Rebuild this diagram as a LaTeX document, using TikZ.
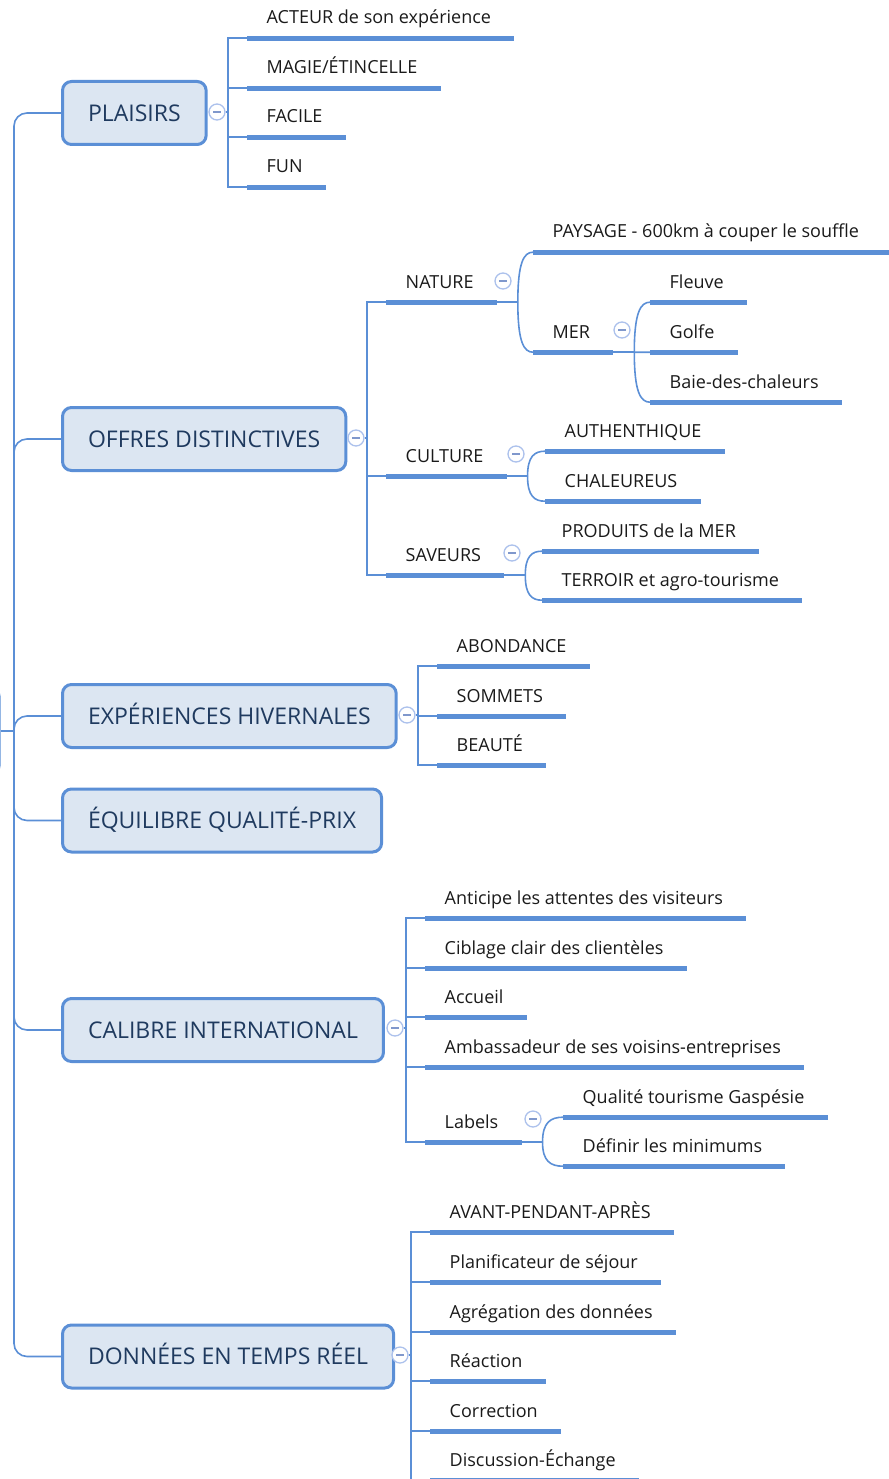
\documentclass[tikz,border=0pt]{standalone}
\usepackage{fontspec}
\setmainfont{Open Sans}
\usetikzlibrary{calc}
\definecolor{lineblue}{RGB}{91,143,214}
\definecolor{boxfill}{RGB}{220,230,242}
\definecolor{boxtext}{RGB}{31,58,95}
\definecolor{circblue}{RGB}{172,193,236}
\definecolor{minusblue}{RGB}{128,152,204}
\definecolor{subtext}{RGB}{26,26,26}
\newcommand\mmbranch[2]{\draw[conn] (#1) .. controls ($(#1)!0.8!(#1|-#2)$) and ($(#2)!0.6!(#1|-#2)$) .. (#2);}
\begin{document}
\begin{tikzpicture}[x=1pt,y=-1pt,
 conn/.style={draw=lineblue, line width=1.6pt},
 ul/.style={draw=lineblue, line width=5pt},
 topic/.style={draw=lineblue, line width=3pt, fill=boxfill, rounded corners=9pt, anchor=west, inner xsep=25.5pt, inner ysep=0pt, minimum height=63pt, text height=16.5pt, text depth=0pt, font=\fontsize{23}{28}\selectfont, text=boxtext},
 sub/.style={anchor=base west, inner xsep=0pt, inner ysep=0pt, text height=13pt, text depth=14pt, font=\fontsize{18}{21}\selectfont, text=subtext, execute at begin node=\hspace*{19.5pt}, execute at end node=\hspace*{23pt}},
 collapse/.style={circle, draw=circblue, line width=1.3pt, fill=white, minimum size=16pt, inner sep=0pt, path picture={\draw[minusblue, line width=1.5pt] ([xshift=-4pt]path picture bounding box.center) -- ([xshift=4pt]path picture bounding box.center);}}
]
\useasboundingbox (0,0) rectangle (888,1479);

% central topic (mostly off page)
\node[draw=lineblue, line width=3pt, fill=boxfill, rounded corners=9pt, minimum width=80pt, minimum height=88pt, anchor=east] (central) at (0.5,731) {};
\coordinate (trunk) at (14,731);

% main topics
\node[topic] (plaisirs) at (61,113) {PLAISIRS};
\node[topic] (offres) at (61,439) {OFFRES DISTINCTIVES};
\node[topic] (hiver) at (61,716) {EXPÉRIENCES HIVERNALES};
\node[topic] (equil) at (61,820.5) {ÉQUILIBRE QUALITÉ-PRIX};
\node[topic] (calibre) at (61,1030) {CALIBRE INTERNATIONAL};
\node[topic] (donnees) at (61,1356.5) {DONNÉES EN TEMPS RÉEL};

\draw[conn] (central.east) -- (trunk);
\foreach \b in {plaisirs,offres,hiver,equil,calibre,donnees}
  \draw[conn, rounded corners=13pt] (\b.west) -| (trunk);

% PLAISIRS
\node[sub] (p1) at (247,24) {ACTEUR de son expérience};
\node[sub] (p2) at (247,74) {MAGIE/ÉTINCELLE};
\node[sub] (p3) at (247,123) {FACILE};
\node[sub] (p4) at (247,173) {FUN};
\node[collapse] (pc) at (217,112) {};
\draw[conn] (pc.east) -- ++(3,0);
\draw[conn] (p1.south west) -- ++(-19,0) |- (p4.south west);
\foreach \n in {p2,p3} \draw[conn] (\n.south west) -- ++(-19,0);
\foreach \n in {p1,p2,p3,p4} \draw[ul] (\n.south west) -- (\n.south east);

% OFFRES DISTINCTIVES
\node[sub] (nat) at (386,288) {NATURE};
\node[sub] (cul) at (386,462) {CULTURE};
\node[sub] (sav) at (386,561) {SAVEURS};
\node[collapse] (oc) at (356,438) {};
\draw[conn] (oc.east) -- ++(3,0);
\draw[conn] (nat.south west) -- ++(-19,0) |- (sav.south west);
\draw[conn] (cul.south west) -- ++(-19,0);

\node[sub, execute at end node=\hspace*{34pt}] (pay) at (533,238) {PAYSAGE - 600km à couper le souffle};
\node[sub] (mer) at (533,338) {MER};
\node[collapse] (nc) at (503,281) {};
\coordinate (nj) at ($(nat.south east)+(21,0)$);
\draw[conn] (nat.south east) -- (nj);
\mmbranch{nj}{pay.south west}
\mmbranch{nj}{mer.south west}

\node[sub] (fle) at (650,288) {Fleuve};
\node[sub] (gol) at (650,338) {Golfe};
\node[sub] (bai) at (650,388) {Baie-des-chaleurs};
\node[collapse] (mc) at (622,330) {};
\coordinate (mj) at ($(mer.south east)+(21,0)$);
\draw[conn] (mer.south east) -- (mj);
\mmbranch{mj}{fle.south west}
\mmbranch{mj}{gol.south west}
\mmbranch{mj}{bai.south west}

\node[sub] (aut) at (545,437) {AUTHENTHIQUE};
\node[sub] (cha) at (545,487) {CHALEUREUS};
\node[collapse] (cc) at (516,454) {};
\coordinate (cj) at ($(cul.south east)+(21,0)$);
\draw[conn] (cul.south east) -- (cj);
\mmbranch{cj}{aut.south west}
\mmbranch{cj}{cha.south west}

\node[sub] (pro) at (542,537) {PRODUITS de la MER};
\node[sub] (ter) at (542,586) {TERROIR et agro-tourisme};
\node[collapse] (sc) at (512,553) {};
\coordinate (sj) at ($(sav.south east)+(21,0)$);
\draw[conn] (sav.south east) -- (sj);
\mmbranch{sj}{pro.south west}
\mmbranch{sj}{ter.south west}

\foreach \n in {nat,cul,sav,pay,mer,fle,gol,bai,aut,cha,pro,ter} \draw[ul] (\n.south west) -- (\n.south east);

% EXPERIENCES HIVERNALES
\node[sub] (h1) at (437,652) {ABONDANCE};
\node[sub] (h2) at (437,702) {SOMMETS};
\node[sub] (h3) at (437,751) {BEAUTÉ};
\node[collapse] (hc) at (407,715) {};
\draw[conn] (hc.east) -- ++(3,0);
\draw[conn] (h1.south west) -- ++(-19,0) |- (h3.south west);
\draw[conn] (h2.south west) -- ++(-19,0);
\foreach \n in {h1,h2,h3} \draw[ul] (\n.south west) -- (\n.south east);

% CALIBRE INTERNATIONAL
\node[sub] (k1) at (425,904) {Anticipe les attentes des visiteurs};
\node[sub] (k2) at (425,954) {Ciblage clair des clientèles};
\node[sub] (k3) at (425,1003) {Accueil};
\node[sub] (k4) at (425,1053) {Ambassadeur de ses voisins-entreprises};
\node[sub] (k5) at (425,1128) {Labels};
\node[collapse] (kc) at (395,1028) {};
\draw[conn] (kc.east) -- ++(3,0);
\draw[conn] (k1.south west) -- ++(-19,0) |- (k5.south west);
\foreach \n in {k2,k3,k4} \draw[conn] (\n.south west) -- ++(-19,0);
\node[sub] (q1) at (563,1103) {Qualité tourisme Gaspésie};
\node[sub] (q2) at (563,1152) {Définir les minimums};
\node[collapse] (lc) at (533,1119) {};
\coordinate (lj) at ($(k5.south east)+(21,0)$);
\draw[conn] (k5.south east) -- (lj);
\mmbranch{lj}{q1.south west}
\mmbranch{lj}{q2.south west}
\foreach \n in {k1,k2,k3,k4,k5,q1,q2} \draw[ul] (\n.south west) -- (\n.south east);

% DONNEES EN TEMPS REEL
\node[sub] (d1) at (430,1218) {AVANT-PENDANT-APRÈS};
\node[sub] (d2) at (430,1268) {Planificateur de séjour};
\node[sub] (d3) at (430,1318) {Agrégation des données};
\node[sub] (d4) at (430,1367) {Réaction};
\node[sub] (d5) at (430,1417) {Correction};
\node[sub] (d6) at (430,1466) {Discussion-Échange};
\node[collapse] (dc) at (400,1355) {};
\draw[conn] (dc.east) -- ++(3,0);
\draw[conn] (d1.south west) -- ++(-19,0) |- (d6.south west);
\foreach \n in {d2,d3,d4,d5} \draw[conn] (\n.south west) -- ++(-19,0);
\foreach \n in {d1,d2,d3,d4,d5,d6} \draw[ul] (\n.south west) -- (\n.south east);
\end{tikzpicture}
\end{document}
